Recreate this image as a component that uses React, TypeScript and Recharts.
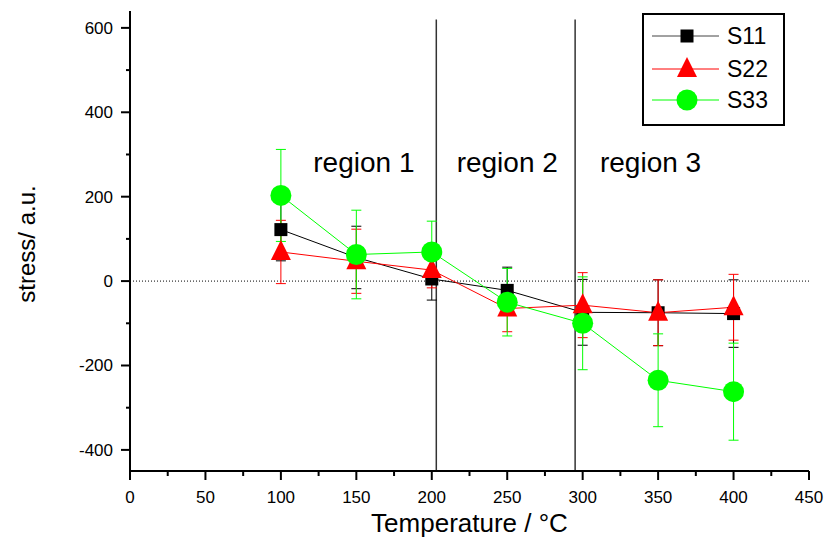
import React from 'react';
import {
  ComposedChart,
  Line,
  XAxis,
  YAxis,
  ErrorBar,
  ReferenceLine,
  ReferenceDot,
  Legend,
} from 'recharts';

// ---------- data ----------
const temps = [100, 150, 200, 250, 300, 350, 400];
const s11 = [122, 56, 5, -22, -74, -75, -77];
const s11Err = [74, 74, 50, 55, 78, 78, 80];
const s22 = [69, 47, 26, -65, -57, -75, -62];
const s22Err = [75, 76, 42, 55, 77, 78, 78];
const s33 = [203, 63, 69, -50, -100, -235, -262];
const s33Err = [109, 105, 73, 80, 110, 110, 115];

const seriesNames = ['S11', 'S22', 'S33'];

const xTicks = [0, 25, 50, 75, 100, 125, 150, 175, 200, 225, 250, 275, 300, 325, 350, 375, 400, 425, 450];
const xMajorStep = 50;
const yTicks = [-400, -300, -200, -100, 0, 100, 200, 300, 400, 500, 600];
const yMajorStep = 200;
const xDomain = [0, 450];
const yDomain = [-450, 640];

const regionBounds = [203, 295];
const regionTop = 620;
const regionLabels = ['region 1', 'region 2', 'region 3'];
const regionLabelX = [155, 250, 345];
const regionLabelY = 258;

const xTitle = 'Temperature / °C';
const yTitle = 'stress/ a.u.';

// ---------- styling ----------
const FONT = '"Liberation Sans", Arial, Helvetica, sans-serif';
const BLACK = '#000000';
const RED = '#ff0000';
const GREEN = '#00ff00';

const data = temps.map((t, i) => ({
  t,
  s11: s11[i],
  e11: s11Err[i],
  s22: s22[i],
  e22: s22Err[i],
  s33: s33[i],
  e33: s33Err[i],
}));

const SquareMark = ({ cx, cy }: { cx: number; cy: number }) => (
  <rect x={cx - 6.5} y={cy - 6.5} width={13} height={13} fill={BLACK} />
);
const TriangleMark = ({ cx, cy }: { cx: number; cy: number }) => (
  <polygon
    points={`${cx},${cy - 12} ${cx + 10},${cy + 8} ${cx - 10},${cy + 8}`}
    fill={RED}
  />
);
const CircleMark = ({ cx, cy }: { cx: number; cy: number }) => (
  <circle cx={cx} cy={cy} r={10.5} fill={GREEN} />
);

const markers = [SquareMark, TriangleMark, CircleMark];
const lineColors = [BLACK, RED, GREEN];
const legendLineColors = ['#444444', RED, GREEN];

const makeDot = (Mark: any) => (p: any) => {
  if (p.cx == null || p.cy == null) return <g key={`n${p.index}`} />;
  return <Mark key={`d${p.index}`} cx={p.cx} cy={p.cy} />;
};

const XTick = (props: any) => {
  const { x, y, payload } = props;
  const v = payload.value;
  const major = v % xMajorStep === 0;
  return (
    <g>
      <line x1={x} x2={x} y1={y} y2={y + (major ? 9 : 5)} stroke={BLACK} strokeWidth={2} />
      {major && (
        <text x={x} y={y + 32} textAnchor="middle" fontSize={17} fontFamily={FONT} fill={BLACK}>
          {v}
        </text>
      )}
    </g>
  );
};

const YTick = (props: any) => {
  const { x, y, payload } = props;
  const v = payload.value;
  const major = v % yMajorStep === 0;
  return (
    <g>
      <line x1={x - (major ? 9 : 4)} x2={x} y1={y} y2={y} stroke={BLACK} strokeWidth={2} />
      {major && (
        <text x={x - 17} y={y + 6} textAnchor="end" fontSize={17} fontFamily={FONT} fill={BLACK}>
          {v}
        </text>
      )}
    </g>
  );
};

const LegendBox = () => {
  const rowY = [23, 56, 87];
  return (
    <svg width={143} height={113} style={{ display: 'block' }}>
      <rect x={1} y={1} width={141} height={111} fill="#ffffff" stroke={BLACK} strokeWidth={2} />
      {seriesNames.map((name, i) => {
        const Mark = markers[i];
        return (
          <g key={name}>
            <line x1={10} x2={77} y1={rowY[i]} y2={rowY[i]} stroke={legendLineColors[i]} strokeWidth={1} />
            <Mark cx={45} cy={rowY[i]} />
            <text x={85} y={rowY[i] + 8} fontSize={23} fontFamily={FONT} fill={BLACK}>
              {name}
            </text>
          </g>
        );
      })}
    </svg>
  );
};

export default function App() {
  return (
    <div style={{ position: 'absolute', left: 0, top: 0, background: '#ffffff' }}>
      <ComposedChart
        width={828}
        height={549}
        data={data}
        margin={{ top: 11, right: 19, bottom: 0, left: 0 }}
      >
        <XAxis
          type="number"
          dataKey="t"
          domain={xDomain}
          ticks={xTicks}
          interval={0}
          height={78}
          tickLine={false}
          tickSize={0}
          tickMargin={0}
          tick={<XTick />}
          axisLine={{ stroke: BLACK, strokeWidth: 2 }}
          allowDataOverflow
          label={{
            content: (p: any) => (
              <text
                x={p.viewBox.x + p.viewBox.width / 2}
                y={p.viewBox.y + 61}
                textAnchor="middle"
                fontSize={26}
                fontFamily={FONT}
                fill={BLACK}
              >
                {xTitle}
              </text>
            ),
          }}
        />
        <YAxis
          type="number"
          domain={yDomain}
          ticks={yTicks}
          interval={0}
          width={130}
          tickLine={false}
          tickSize={0}
          tickMargin={0}
          tick={<YTick />}
          axisLine={{ stroke: BLACK, strokeWidth: 2 }}
          allowDataOverflow
          label={{
            content: (p: any) => {
              const cx = 35;
              const cy = p.viewBox.y + p.viewBox.height / 2 + 3;
              return (
                <text
                  x={cx}
                  y={cy}
                  transform={`rotate(-90 ${cx} ${cy})`}
                  textAnchor="middle"
                  fontSize={24}
                  fontFamily={FONT}
                  fill={BLACK}
                >
                  {yTitle}
                </text>
              );
            },
          }}
        />
        <ReferenceLine y={0} stroke={BLACK} strokeWidth={1} strokeDasharray="1 2" />
        {regionBounds.map((b) => (
          <ReferenceLine
            key={`rb${b}`}
            segment={[
              { x: b, y: regionTop },
              { x: b, y: yDomain[0] },
            ]}
            stroke="#333333"
            strokeWidth={1.5}
          />
        ))}
        {regionLabels.map((name, i) => (
          <ReferenceDot
            key={name}
            x={regionLabelX[i]}
            y={regionLabelY}
            r={0}
            fill="none"
            stroke="none"
            label={{
              content: (p: any) => (
                <text
                  x={p.viewBox.x + p.viewBox.width / 2}
                  y={p.viewBox.y + p.viewBox.height / 2}
                  textAnchor="middle"
                  fontSize={28}
                  fontFamily={FONT}
                  fill={BLACK}
                >
                  {name}
                </text>
              ),
            }}
          />
        ))}
        <Line
          dataKey="s11"
          name="S11"
          stroke={lineColors[0]}
          strokeWidth={1}
          isAnimationActive={false}
          dot={makeDot(SquareMark)}
          activeDot={false}
        >
          <ErrorBar dataKey="e11" direction="y" width={5} stroke={BLACK} strokeWidth={1} isAnimationActive={false} />
        </Line>
        <Line
          dataKey="s22"
          name="S22"
          stroke={lineColors[1]}
          strokeWidth={1}
          isAnimationActive={false}
          dot={makeDot(TriangleMark)}
          activeDot={false}
        >
          <ErrorBar dataKey="e22" direction="y" width={5} stroke={RED} strokeWidth={1} isAnimationActive={false} />
        </Line>
        <Line
          dataKey="s33"
          name="S33"
          stroke={lineColors[2]}
          strokeWidth={1}
          isAnimationActive={false}
          dot={makeDot(CircleMark)}
          activeDot={false}
        >
          <ErrorBar dataKey="e33" direction="y" width={5} stroke={GREEN} strokeWidth={1} isAnimationActive={false} />
        </Line>
        <Legend
          layout="vertical"
          align="center"
          verticalAlign="middle"
          content={<LegendBox />}
          wrapperStyle={{ left: 642, top: 13, width: 143, height: 113 }}
        />
      </ComposedChart>
    </div>
  );
}
